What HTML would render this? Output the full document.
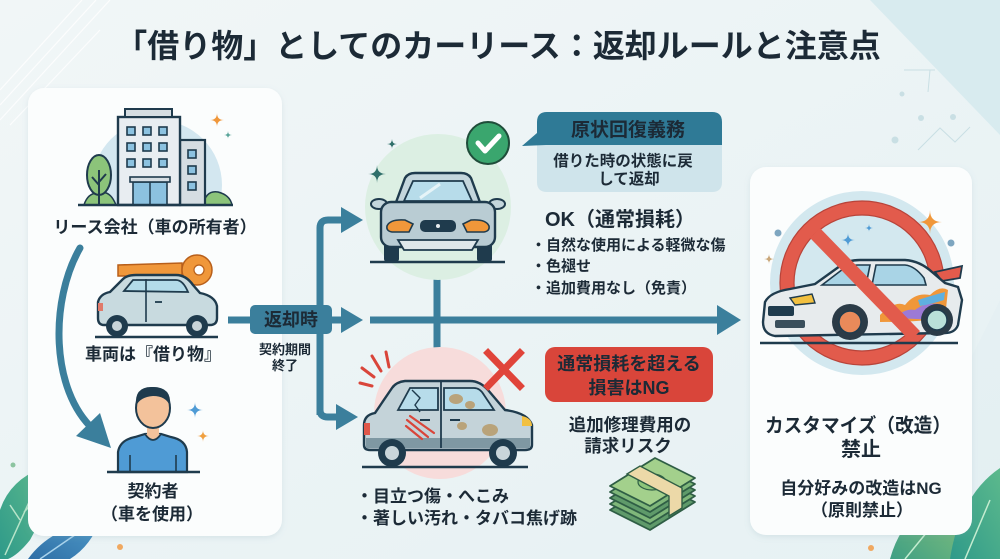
<!DOCTYPE html>
<html><head><meta charset="utf-8">
<style>
html,body{margin:0;padding:0;background:#ecf4f6;}
svg{display:block;}
text{font-family:"Liberation Sans","Noto Sans CJK JP",sans-serif;font-weight:700;fill:#1c2a36;}
</style></head>
<body>
<svg width="1000" height="559" viewBox="0 0 1000 559" xmlns="http://www.w3.org/2000/svg">
<defs>
<linearGradient id="bg" x1="0" y1="0" x2="1" y2="1">
<stop offset="0" stop-color="#f1f6f7"/><stop offset="1" stop-color="#e6f1f3"/>
</linearGradient>
<linearGradient id="leafA" x1="0" y1="1" x2="1" y2="0">
<stop offset="0" stop-color="#2f9a8a"/><stop offset="1" stop-color="#5cb98c"/>
</linearGradient>
<linearGradient id="leafB" x1="0" y1="1" x2="1" y2="0">
<stop offset="0" stop-color="#2f6fa6"/><stop offset="1" stop-color="#4f9bc9"/>
</linearGradient>
<linearGradient id="leafC" x1="0" y1="1" x2="1" y2="0">
<stop offset="0" stop-color="#3f9f84"/><stop offset="1" stop-color="#8cc47a"/>
</linearGradient>
<filter id="sh" x="-10%" y="-10%" width="120%" height="120%">
<feDropShadow dx="0" dy="2" stdDeviation="3" flood-color="#7aa0ad" flood-opacity="0.18"/>
</filter>
</defs>

<!-- background -->
<rect width="1000" height="559" fill="url(#bg)"/>
<polygon points="870,0 1000,0 1000,135" fill="#d8ebef"/>
<polygon points="960,380 1000,300 1000,559 930,559" fill="#e2eff2" opacity="0.6"/>
<g stroke="#ffffff" stroke-width="1.2" opacity="0.8">
<line x1="0" y1="120" x2="110" y2="0"/>
<line x1="0" y1="105" x2="96" y2="0"/>
<line x1="0" y1="90" x2="82" y2="0"/>
<line x1="10" y1="125" x2="100" y2="30"/>
</g>
<g stroke="#c9dfe4" stroke-width="1" fill="none">
<line x1="904" y1="70" x2="935" y2="70"/><line x1="930" y1="70" x2="928" y2="92"/>
<polyline points="918,150 940,128 955,142 970,127"/>
</g>
<g fill="#c9dfe4"><circle cx="902" cy="94" r="2.5"/><circle cx="921" cy="118" r="3"/><circle cx="953" cy="117" r="3"/><circle cx="895" cy="140" r="3.5"/></g>

<!-- leaves bottom left -->
<circle cx="13" cy="465" r="2.5" fill="#8cc4a0"/>
<circle cx="120" cy="547" r="3" fill="#f0a860"/>
<path d="M0 559 L0 510 Q10 480 42 468 Q48 510 30 540 Q18 555 8 559 Z" fill="url(#leafA)"/>
<path d="M5 555 L30 500 M20 520 L10 505 M24 512 L38 498" stroke="#b7e4c9" stroke-width="1.5" fill="none"/>
<path d="M28 559 Q50 528 100 519 Q92 545 70 559 Z" fill="url(#leafB)"/>
<path d="M40 559 L85 528" stroke="#a9d3ec" stroke-width="1.5" fill="none"/>

<!-- leaves bottom right -->
<circle cx="871" cy="548" r="3" fill="#f0a860"/>
<path d="M890 559 Q905 505 960 490 Q975 525 950 559 Z" fill="url(#leafC)"/>
<path d="M950 559 Q960 495 1000 468 L1000 559 Z" fill="url(#leafA)"/>
<path d="M905 559 L945 510 M965 559 L990 500" stroke="#c4ecd0" stroke-width="1.5" fill="none"/>

<!-- title -->
<text x="498" y="57" font-size="32" text-anchor="middle" fill="#1b2a38">「借り物」としてのカーリース：返却ルールと注意点</text>

<!-- left card -->
<rect x="28" y="88" width="254" height="448" rx="16" fill="#fbfdfd" filter="url(#sh)"/>

<!-- building -->
<clipPath id="bc"><rect x="60" y="90" width="200" height="115"/></clipPath>
<circle cx="157" cy="185" r="65" fill="#d3e7f0" clip-path="url(#bc)"/>
<path d="M84 205 Q88 192 100 193 Q110 190 116 205 Z" fill="#8cc47a" stroke="#1f3b4d" stroke-width="1.5"/>
<path d="M203 205 Q206 190 218 192 Q230 195 232 205 Z" fill="#8cc47a" stroke="#1f3b4d" stroke-width="1.5"/>
<ellipse cx="99" cy="175" rx="12" ry="20" fill="#8cc47a" stroke="#1f3b4d" stroke-width="2"/>
<path d="M99 170 L99 205 M99 185 L92 177 M99 182 L106 174" stroke="#1f3b4d" stroke-width="2" fill="none"/>
<rect x="180" y="140" width="25" height="65" fill="#d5dde2" stroke="#1f3b4d" stroke-width="2.2"/>
<rect x="118" y="117" width="62" height="88" fill="#e8edf1" stroke="#1f3b4d" stroke-width="2.4"/>
<rect x="125" y="109" width="47" height="8" fill="#d5dde2" stroke="#1f3b4d" stroke-width="2"/>
<g fill="#8cc2e0" stroke="#1f3b4d" stroke-width="1.6">
<rect x="127" y="127" width="8" height="8"/><rect x="143" y="127" width="8" height="8"/><rect x="159" y="127" width="8" height="8"/>
<rect x="127" y="143" width="8" height="8"/><rect x="143" y="143" width="8" height="8"/><rect x="159" y="143" width="8" height="8"/>
<rect x="127" y="159" width="8" height="8"/><rect x="143" y="159" width="8" height="8"/><rect x="159" y="159" width="8" height="8"/>
<rect x="188" y="150" width="8" height="8"/><rect x="188" y="166" width="8" height="8"/><rect x="188" y="182" width="8" height="8"/>
<rect x="133" y="182" width="34" height="23"/>
</g>
<rect x="130" y="177" width="40" height="5" fill="#d5dde2" stroke="#1f3b4d" stroke-width="1.6"/>
<line x1="150" y1="182" x2="150" y2="205" stroke="#1f3b4d" stroke-width="1.5"/>
<line x1="78" y1="205" x2="233" y2="205" stroke="#1f3b4d" stroke-width="2.4"/>
<path d="M217 113 Q217 120 224 120 Q217 120 217 127 Q217 120 210 120 Q217 120 217 113Z" fill="#f0973a"/>
<path d="M228 131 Q228 135 232 135 Q228 135 228 139 Q228 135 224 135 Q228 135 228 131Z" fill="#5aa59a"/>
<text x="155" y="233" font-size="17" text-anchor="middle">リース会社（車の所有者）</text>

<!-- arc arrow -->
<path d="M80 248 C50 300, 50 390, 94 430" stroke="#3b7f9c" stroke-width="7" fill="none" stroke-linecap="round"/>
<polygon points="111,448 76,436 100,413" fill="#3b7f9c"/>

<!-- key -->
<path d="M118 265 L182 263 L182 276 L150 276 L147 281 L143 276 L139 281 L135 276 L131 281 L127 276 L118 276 Z" fill="#f0973a" stroke="#b85f1a" stroke-width="1.5"/>
<circle cx="197" cy="270" r="15" fill="#f0973a" stroke="#b85f1a" stroke-width="1.5"/>
<circle cx="199" cy="270" r="5" fill="#fff" stroke="#b85f1a" stroke-width="1.2"/>
<!-- left car -->
<path d="M98 318 L98 302 Q100 294 110 292 L123 279 Q127 275 136 275 L176 275 Q186 275 193 285 L200 293 Q215 296 217 306 L217 318 Q217 325 210 325 L104 325 Q98 325 98 318 Z" fill="#c8dadf" stroke="#1f3b4d" stroke-width="2.4"/>
<path d="M124 291 L133 280 L176 280 Q183 280 188 292 Z" fill="#b3dbe9" stroke="#1f3b4d" stroke-width="1.8"/>
<line x1="146" y1="279" x2="146" y2="322" stroke="#1f3b4d" stroke-width="1.6"/>
<line x1="155" y1="302" x2="162" y2="302" stroke="#1f3b4d" stroke-width="1.8"/>
<rect x="98" y="303" width="5" height="8" fill="#e07a6a"/>
<circle cx="117" cy="326" r="11" fill="#1f3b4d"/><circle cx="117" cy="326" r="5" fill="#c8d4d8"/>
<circle cx="197" cy="326" r="11" fill="#1f3b4d"/><circle cx="197" cy="326" r="5" fill="#c8d4d8"/>
<line x1="95" y1="337" x2="218" y2="337" stroke="#1f3b4d" stroke-width="2.4"/>
<text x="153" y="360" font-size="17" text-anchor="middle">車両は『借り物』</text>

<!-- person -->
<path d="M118 472 L118 452 Q120 440 135 437 L145 434 L161 434 L171 437 Q186 440 187 452 L187 472 Z" fill="#4f9bd5" stroke="#1f3b4d" stroke-width="2.2"/>
<path d="M145 434 Q153 446 161 434" fill="#f3c29b" stroke="#1f3b4d" stroke-width="1.8"/>
<rect x="147" y="422" width="12" height="13" fill="#f3c29b"/>
<ellipse cx="153" cy="408" rx="17" ry="20" fill="#f3c29b" stroke="#1f3b4d" stroke-width="2"/>
<path d="M136 406 Q134 386 153 387 Q172 387 170 406 Q166 396 153 396 Q140 397 136 406 Z" fill="#1f3b4d"/>
<line x1="130" y1="455" x2="130" y2="472" stroke="#1f3b4d" stroke-width="1.6"/>
<line x1="176" y1="455" x2="176" y2="472" stroke="#1f3b4d" stroke-width="1.6"/>
<line x1="107" y1="472" x2="200" y2="472" stroke="#1f3b4d" stroke-width="2.4"/>
<path d="M195 402 Q195 410 203 410 Q195 410 195 418 Q195 410 187 410 Q195 410 195 402Z" fill="#4f9bd5"/>
<path d="M203 430 Q203 436 209 436 Q203 436 203 442 Q203 436 197 436 Q203 436 203 430Z" fill="#f0a040"/>
<text x="153" y="497" font-size="17" text-anchor="middle">契約者</text>
<text x="152" y="520" font-size="17" text-anchor="middle">（車を使用）</text>

<!-- connectors -->
<g stroke="#3b7f9c" stroke-width="7" fill="none">
<line x1="228" y1="320" x2="252" y2="320"/>
<line x1="330" y1="320" x2="345" y2="320"/>
<path d="M320 415 L320 228 Q320 220 328 220 L345 220"/>
<path d="M320 320 L320 410 Q320 417 328 417 L342 417"/>
<line x1="370" y1="320" x2="722" y2="320"/>
<line x1="437" y1="278" x2="437" y2="358"/>
</g>
<g fill="#3b7f9c">
<polygon points="363,220 341,207 341,233"/>
<polygon points="363,320 341,307 341,333"/>
<polygon points="358,417 336,404 336,430"/>
<polygon points="741,320 717,305 717,335"/>
</g>
<rect x="250" y="305" width="82" height="29" rx="5" fill="#3b7f9c"/>
<text x="291" y="326" font-size="18" text-anchor="middle" fill="#ffffff">返却時</text>
<text x="285" y="354" font-size="13" text-anchor="middle">契約期間</text>
<text x="285" y="370" font-size="13" text-anchor="middle">終了</text>

<!-- top car -->
<circle cx="438" cy="207" r="73" fill="#dcefe3"/>
<path d="M377 165 Q377 174 386 174 Q377 174 377 183 Q377 174 368 174 Q377 174 377 165Z" fill="#2f6f6a"/>
<path d="M392 139 Q392 144 397 144 Q392 144 392 149 Q392 144 387 144 Q392 144 392 139Z" fill="#2f6f6a"/>
<rect x="384" y="243" width="15" height="19" rx="3" fill="#1f3b4d"/>
<rect x="477" y="243" width="15" height="19" rx="3" fill="#1f3b4d"/>
<path d="M395 205 L405 178 Q408 173 415 173 L461 173 Q468 173 471 178 L481 205 Z" fill="#c4d6dc" stroke="#1f3b4d" stroke-width="2.4"/>
<path d="M404 201 L413 181 L463 181 L472 201 Z" fill="#b7dcea" stroke="#1f3b4d" stroke-width="1.8"/>
<line x1="420" y1="198" x2="440" y2="184" stroke="#e6f4f8" stroke-width="3"/>
<ellipse cx="379" cy="204" rx="8" ry="5" fill="#c4d6dc" stroke="#1f3b4d" stroke-width="2"/>
<ellipse cx="497" cy="204" rx="8" ry="5" fill="#c4d6dc" stroke="#1f3b4d" stroke-width="2"/>
<rect x="381" y="202" width="114" height="45" rx="10" fill="#b9ccd3" stroke="#1f3b4d" stroke-width="2.4"/>
<path d="M387 226 Q390 219 405 220 L413 224 L409 232 L392 232 Q386 231 387 226Z" fill="#f0973a" stroke="#1f3b4d" stroke-width="1.6"/>
<path d="M489 226 Q486 219 471 220 L463 224 L467 232 L484 232 Q490 231 489 226Z" fill="#f0973a" stroke="#1f3b4d" stroke-width="1.6"/>
<rect x="420" y="220" width="36" height="12" rx="5" fill="#1f3b4d"/>
<circle cx="438" cy="226" r="2" fill="#e6ecef"/>
<path d="M398 240 L478 240 L472 250 L404 250 Z" fill="#dfe8eb" stroke="#1f3b4d" stroke-width="1.8"/>
<line x1="370" y1="262" x2="505" y2="262" stroke="#1f3b4d" stroke-width="2.4"/>
<circle cx="488" cy="143" r="21" fill="#3aa66e" stroke="#1f4d3a" stroke-width="2"/>
<path d="M478 143 L485 151 L499 136" stroke="#ffffff" stroke-width="5" fill="none" stroke-linecap="round" stroke-linejoin="round"/>

<!-- callout -->
<path d="M537 192 L537 143 L722 143 L722 182 Q722 192 712 192 L547 192 Q537 192 537 182 Z" fill="#cfe4eb"/>
<path d="M537 133 L537 122 Q537 112 547 112 L712 112 Q722 112 722 122 L722 145 L546 145 L522 146 Z" fill="#2f7a96"/>
<text x="628" y="136" font-size="19" text-anchor="middle" fill="#ffffff">原状回復義務</text>
<text x="623" y="166" font-size="15.5" text-anchor="middle">借りた時の状態に戻</text>
<text x="629" y="184" font-size="15.5" text-anchor="middle">して返却</text>
<text x="545" y="226" font-size="20">OK（通常損耗）</text>
<text x="531" y="250" font-size="15">・自然な使用による軽微な傷</text>
<text x="531" y="271" font-size="15">・色褪せ</text>
<text x="531" y="293" font-size="15">・追加費用なし（免責）</text>

<!-- bottom car -->
<circle cx="440" cy="413" r="66" fill="#f7dcdb"/>
<g stroke="#d9453a" stroke-width="3" stroke-linecap="round">
<line x1="362" y1="368" x2="374" y2="377"/><line x1="372" y1="356" x2="381" y2="371"/><line x1="386" y1="352" x2="389" y2="367"/><line x1="360" y1="383" x2="372" y2="386"/>
</g>
<path d="M364 445 L364 425 Q364 415 375 413 L392 388 Q396 382 405 381 L470 381 Q480 381 488 390 L505 410 Q528 413 532 425 L532 445 Q532 450 525 450 L370 450 Q364 450 364 445 Z" fill="#c4d3d9" stroke="#1f3b4d" stroke-width="2.4"/>
<rect x="366" y="438" width="164" height="10" fill="#7f98a3"/>
<path d="M398 410 L410 388 L438 388 L438 410 Z" fill="#b7dcea" stroke="#1f3b4d" stroke-width="1.8"/>
<path d="M444 388 L474 388 Q480 388 484 395 L494 410 L444 410 Z" fill="#b7dcea" stroke="#1f3b4d" stroke-width="1.8"/>
<path d="M412 390 L420 398 L415 405 L420 412" stroke="#1f3b4d" stroke-width="1.4" fill="none"/>
<line x1="441" y1="382" x2="441" y2="448" stroke="#1f3b4d" stroke-width="1.8"/>
<g fill="#b9a37a"><ellipse cx="456" cy="399" rx="7" ry="5"/><ellipse cx="470" cy="405" rx="5" ry="4"/><ellipse cx="490" cy="430" rx="8" ry="6"/><ellipse cx="462" cy="426" rx="5" ry="4"/></g>
<g stroke="#d9453a" stroke-width="2.2" stroke-linecap="round"><line x1="407" y1="420" x2="428" y2="437"/><line x1="410" y1="416" x2="434" y2="433"/><line x1="406" y1="426" x2="422" y2="439"/></g>
<line x1="420" y1="420" x2="430" y2="420" stroke="#1f3b4d" stroke-width="2"/>
<line x1="450" y1="420" x2="460" y2="420" stroke="#1f3b4d" stroke-width="2"/>
<rect x="364" y="423" width="6" height="12" fill="#e0574a"/>
<path d="M522 416 Q532 418 532 426 L522 426 Z" fill="#f2c040"/>
<circle cx="392" cy="453" r="14" fill="#1f3b4d"/><circle cx="392" cy="453" r="7" fill="#c9d5da"/>
<circle cx="503" cy="453" r="14" fill="#1f3b4d"/><circle cx="503" cy="453" r="7" fill="#c9d5da"/>
<line x1="362" y1="467" x2="528" y2="467" stroke="#1f3b4d" stroke-width="2.4"/>
<g stroke="#e0443a" stroke-width="7" stroke-linecap="square"><line x1="488" y1="353" x2="520" y2="386"/><line x1="520" y1="353" x2="488" y2="386"/></g>
<text x="356" y="502" font-size="17">・目立つ傷・へこみ</text>
<text x="356" y="524" font-size="17">・著しい汚れ・タバコ焦げ跡</text>

<!-- red box -->
<rect x="545" y="347" width="168" height="55" rx="10" fill="#d9453a"/>
<text x="629" y="370" font-size="18" text-anchor="middle" fill="#ffffff">通常損耗を超える</text>
<text x="629" y="394" font-size="18" text-anchor="middle" fill="#ffffff">損害はNG</text>
<text x="630" y="431" font-size="17.5" text-anchor="middle">追加修理費用の</text>
<text x="628" y="452" font-size="17.5" text-anchor="middle">請求リスク</text>

<!-- money -->
<g stroke="#2f5e45" stroke-width="1.8" stroke-linejoin="round">
<polygon points="610,510 655,482 695,502 650,530" fill="#5f9a6a"/>
<polygon points="610,504 655,476 695,496 650,524" fill="#7fb77a"/>
<polygon points="610,498 655,470 695,490 650,518" fill="#5f9a6a"/>
<polygon points="610,492 655,464 695,484 650,512" fill="#7fb77a"/>
<polygon points="610,486 655,458 695,478 650,506" fill="#a3d08c"/>
</g>
<ellipse cx="652" cy="482" rx="14" ry="8" fill="#8cc47a" stroke="#2f5e45" stroke-width="1.2"/>
<polygon points="627,474 640,466 682,488 682,508 669,516 669,496" fill="#ecd9a8" stroke="#2f5e45" stroke-width="1.4"/>

<!-- right card -->
<rect x="750" y="167" width="222" height="368" rx="16" fill="#fbfdfd" filter="url(#sh)"/>
<circle cx="862" cy="283" r="92" fill="#d3e8ef"/>
<circle cx="862" cy="283" r="75" fill="none" stroke="#e25b4c" stroke-width="14"/>
<circle cx="862" cy="283" r="82" fill="none" stroke="#b8443a" stroke-width="1.2"/>
<circle cx="862" cy="283" r="68" fill="none" stroke="#b8443a" stroke-width="1.2"/>
<path d="M930 210 Q930 222 942 222 Q930 222 930 234 Q930 222 918 222 Q930 222 930 210Z" fill="#f0973a"/>
<path d="M848 233 Q848 240 855 240 Q848 240 848 247 Q848 240 841 240 Q848 240 848 233Z" fill="#4f9bd5"/>
<path d="M869 224 Q869 228 873 228 Q869 228 869 232 Q869 228 865 228 Q869 228 869 224Z" fill="#4f9bd5"/>
<path d="M769 254 Q769 259 774 259 Q769 259 769 264 Q769 259 764 259 Q769 259 769 254Z" fill="#c9a77a"/>
<circle cx="778" cy="233" r="3.5" fill="#7ea6c0"/><circle cx="951" cy="243" r="3.5" fill="#7ea6c0"/>
<!-- sporty car -->
<path d="M935 272 L962 266 L960 278 L942 281 Z" fill="#e25b4c" stroke="#1f3b4d" stroke-width="1.8"/>
<path d="M763 322 L765 302 Q770 292 790 289 L815 284 L840 266 Q848 260 860 260 L905 260 Q920 261 932 272 L945 283 L958 287 L962 300 L958 325 Q955 333 945 333 L775 336 Q763 334 763 322 Z" fill="#e7ebed" stroke="#1f3b4d" stroke-width="2.4"/>
<path d="M822 285 L843 269 Q849 265 858 265 L870 265 L866 285 Z" fill="#a9d4e6" stroke="#1f3b4d" stroke-width="1.6"/>
<path d="M876 265 L905 265 Q915 266 924 278 L926 285 L872 285 Z" fill="#a9d4e6" stroke="#1f3b4d" stroke-width="1.6"/>
<path d="M880 315 Q895 300 905 305 Q915 292 930 295 Q940 285 948 290 L945 318 Q920 322 880 322 Z" fill="#f0973a"/>
<path d="M895 318 Q905 308 915 310 Q925 302 940 304 L938 320 Z" fill="#9c7ad6"/>
<path d="M918 300 Q930 296 945 292 L944 300 Q932 304 920 306 Z" fill="#5fb0e0"/>
<path d="M790 298 L812 294 L815 303 L795 305 Z" fill="#f2c040" stroke="#1f3b4d" stroke-width="1.4"/>
<rect x="768" y="306" width="26" height="10" rx="2" fill="#1f3b4d"/>
<rect x="775" y="320" width="30" height="8" rx="2" fill="#3a4f5c"/>
<circle cx="850" cy="322" r="18" fill="#2b3b47"/><circle cx="850" cy="322" r="11" fill="#e98a5a" stroke="#1f3b4d" stroke-width="1.5"/>
<circle cx="937" cy="320" r="16" fill="#2b3b47"/><circle cx="937" cy="320" r="10" fill="#b9e0d9" stroke="#1f3b4d" stroke-width="1.5"/>
<line x1="760" y1="343" x2="958" y2="343" stroke="#1f3b4d" stroke-width="2.4"/>
<line x1="815" y1="233" x2="915" y2="336" stroke="#e25b4c" stroke-width="14"/>
<text x="858" y="432" font-size="19.5" text-anchor="middle" textLength="186" lengthAdjust="spacingAndGlyphs">カスタマイズ（改造）</text>
<text x="861" y="456" font-size="20" text-anchor="middle">禁止</text>
<text x="861" y="494" font-size="17" text-anchor="middle">自分好みの改造はNG</text>
<text x="862" y="516" font-size="17" text-anchor="middle">（原則禁止）</text>
</svg>
</body></html>
